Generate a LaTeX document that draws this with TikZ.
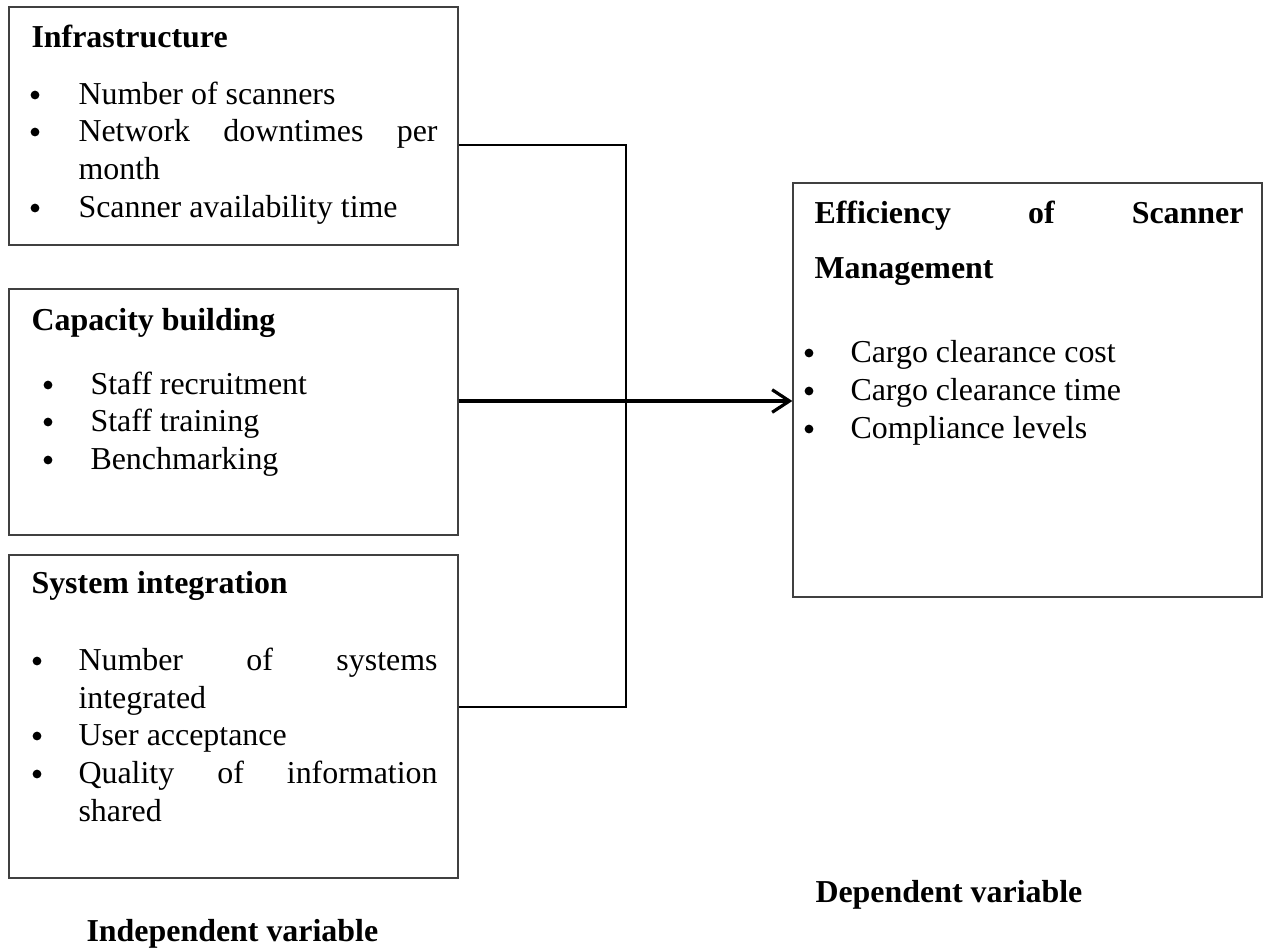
\documentclass[tikz,border=0pt]{standalone}
\usepackage{fontspec}
\setmainfont{Liberation Serif}
\usetikzlibrary{fit,arrows.meta}
\begin{document}
\begin{tikzpicture}[x=0.376pt,y=-0.376pt,
  box/.style={draw=black!75,line width=0.5pt,inner sep=0pt},
  txt/.style={anchor=base west,inner sep=0pt,font=\fontsize{12}{14}\selectfont},
  hd/.style={txt,font=\fontsize{12}{14}\selectfont\bfseries},
  bul/.style={circle,fill=black,inner sep=0pt,minimum size=3.3pt},
  conn/.style={draw=black,line width=0.75pt},
  arr/.style={draw=black,line width=1.3pt,-{Straight Barb[length=6.5pt,width=8.5pt,line width=1.2pt]}}]
\useasboundingbox (0,0) rectangle (1266,951);
% boxes
\node[box,fit={(9,7) (458,245)}] (box1) {};
\node[box,fit={(9,289) (458,535)}] (box2) {};
\node[box,fit={(9,555) (458,878)}] (box3) {};
\node[box,fit={(793,183) (1262,597)}] (box4) {};
% box 1
\node[hd] (h1) at (31,47) {Infrastructure};
\node[bul] (b11) at (35,95) {};
\node[txt] (t11) at (78,104) {Number of scanners};
\node[bul] (b12) at (35,132) {};
\node[txt] (t12) at (78,141) {\makebox[135pt][s]{Network downtimes per}};
\node[txt] (t12b) at (78,179) {month};
\node[bul] (b13) at (35,208) {};
\node[txt] (t13) at (78,217) {Scanner availability time};
% box 2
\node[hd] (h2) at (31,330) {Capacity building};
\node[bul] (b21) at (48,385) {};
\node[txt] (t21) at (90,394) {Staff recruitment};
\node[bul] (b22) at (48,422) {};
\node[txt] (t22) at (90,431) {Staff training};
\node[bul] (b23) at (48,460) {};
\node[txt] (t23) at (90,469) {Benchmarking};
% box 3
\node[hd] (h3) at (31,593) {System integration};
\node[bul] (b31) at (37,661) {};
\node[txt] (t31) at (78,670) {\makebox[135pt][s]{Number of systems}};
\node[txt] (t31b) at (78,708) {integrated};
\node[bul] (b32) at (37,736) {};
\node[txt] (t32) at (78,745) {User acceptance};
\node[bul] (b33) at (37,774) {};
\node[txt] (t33) at (78,783) {\makebox[135pt][s]{Quality of information}};
\node[txt] (t33b) at (78,821) {shared};
% box 4
\node[hd] (h4) at (814,223) {\makebox[161.3pt][s]{Efficiency of Scanner}};
\node[hd] (h4b) at (814,278) {Management};
\node[bul] (b41) at (809,353) {};
\node[txt] (t41) at (850,362) {Cargo clearance cost};
\node[bul] (b42) at (809,391) {};
\node[txt] (t42) at (850,400) {Cargo clearance time};
\node[bul] (b43) at (809,429) {};
\node[txt] (t43) at (850,438) {Compliance levels};
% labels
\node[hd] (lind) at (86,941) {Independent variable};
\node[hd] (ldep) at (815,902) {Dependent variable};
% connectors
\coordinate (j1) at (626,145);
\coordinate (j3) at (626,707);
\coordinate (ja) at (626,401);
\draw[conn] (box1.east |- j1) -- (j1) -- (j3) -- (box3.east |- j3);
\draw[arr] (box2.east |- ja) -- (box4.west |- ja);
\end{tikzpicture}
\end{document}
